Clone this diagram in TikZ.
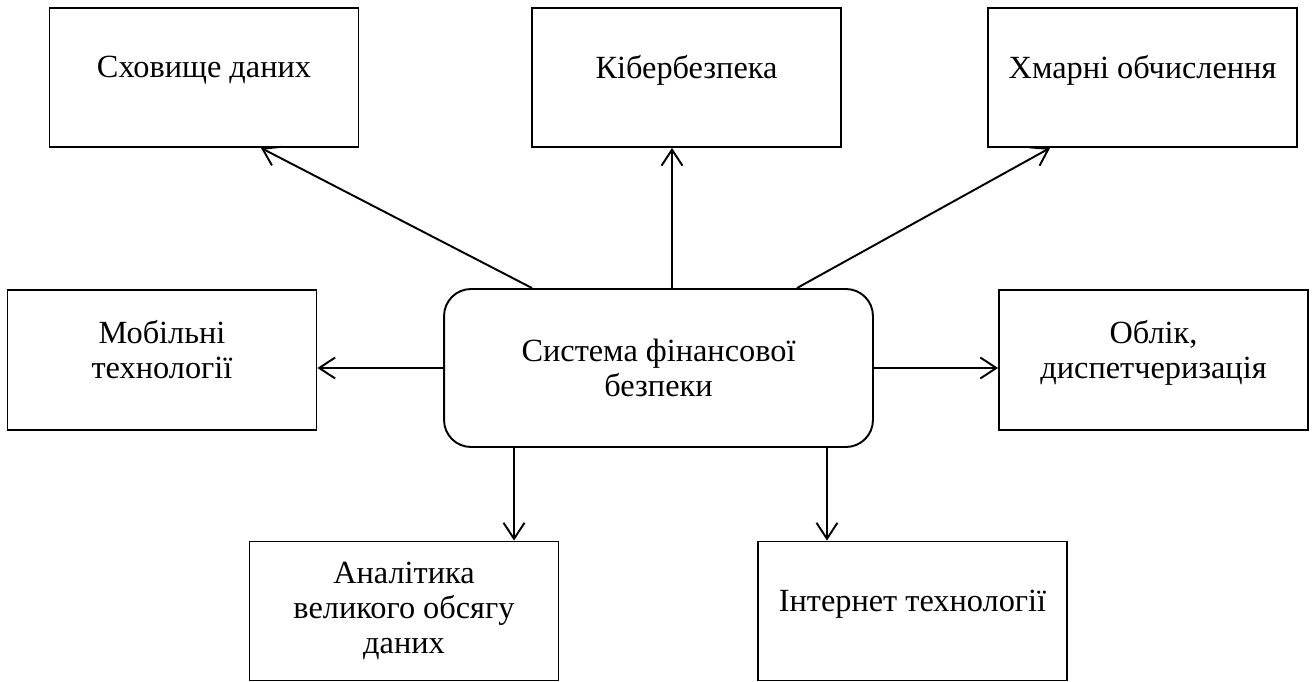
\documentclass[tikz,border=0pt]{standalone}
\usepackage{fontspec}
\setmainfont{Liberation Serif}
\usepackage{tikz}
\usetikzlibrary{arrows.meta, positioning}

\begin{document}
\begin{tikzpicture}[x=0.02cm, y=-0.02cm,
        box/.style={draw, line width=1.1pt, minimum width=6.18cm, minimum height=2.78cm,
            align=center, font=\fontsize{18.4}{20}\selectfont},
        oneline/.style={text depth=0.42cm},
        twoline/.style={text depth=0.42cm, minimum height=2.8cm},
        hub/.style={draw, line width=1.1pt, rounded corners=0.54cm, minimum width=8.58cm,
            minimum height=3.16cm, align=center, font=\fontsize{18.4}{20}\selectfont},
        link/.style={line width=1.1pt, -{Straight Barb[length=0.32cm, width=0.42cm, line width=1.1pt]}}]
    \useasboundingbox (0,0) rectangle (1312,682);
    % central block
    \node (sys) at (658.5,368) [hub] {Система фінансової\\безпеки};
    % upper row
    \node (store) at (204,77.5) [box, oneline] {Сховище даних};
    \node (cyber) at (686.5,77.5) [box, oneline] {Кібербезпека};
    \node (cloud) at (1142.5,77.5) [box, oneline] {Хмарні обчислення};
    % middle row
    \node (mobile) at (162,360) [box, twoline] {Мобільні\\технології};
    \node (account) at (1153.5,360) [box, twoline] {Облік,\\диспетчеризація};
    % lower row
    \node (analytics) at (404,611) [box] {Аналітика\\великого обсягу\\даних};
    \node (internet) at (912.5,611) [box, oneline] {Інтернет технології};

    \draw [link] ([xshift=-2.53cm]sys.north) -- ([xshift=1.14cm]store.south);
    \draw [link] ([xshift=0.27cm]sys.north) -- ([xshift=0.27cm]sys.north |- cyber.south);
    \draw [link] ([xshift=2.77cm]sys.north) -- ([xshift=-1.85cm]cloud.south);
    \draw [link] (sys.west) -- (sys.west -| mobile.east);
    \draw [link] (sys.east) -- (sys.east -| account.west);
    \draw [link] ([xshift=-2.89cm]sys.south) -- ([xshift=-2.89cm]sys.south |- analytics.north);
    \draw [link] ([xshift=3.37cm]sys.south) -- ([xshift=3.37cm]sys.south |- internet.north);
\end{tikzpicture}
\end{document}
